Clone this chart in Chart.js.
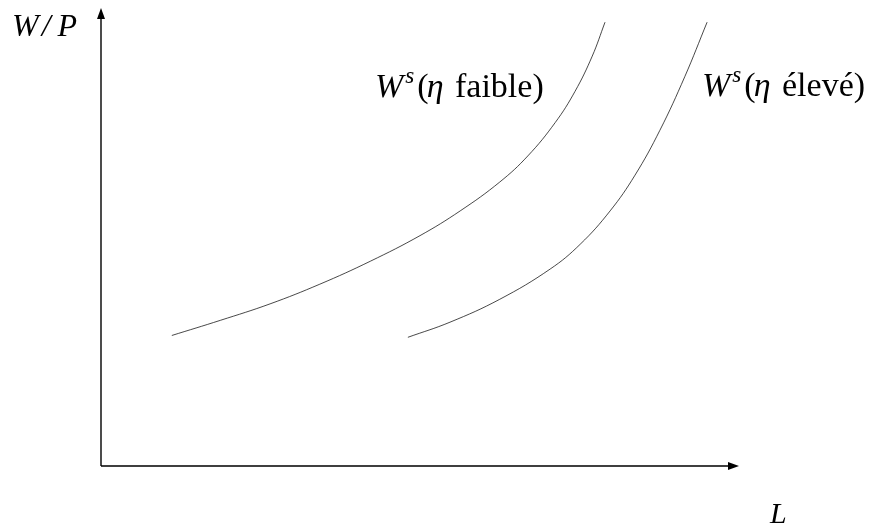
<!DOCTYPE html>
<html>
<head>
<meta charset="utf-8">
<script src="https://cdn.jsdelivr.net/npm/chart.js@4/dist/chart.umd.min.js"></script>
<style>
    html, body { margin: 0; padding: 0; background: #fff; }
    #wrap { width: 871px; height: 532px; position: relative; }
</style>
</head>
<body>
<div id="wrap"><canvas id="supply-chart"></canvas></div>
<script>
// Labour supply curves, L on the horizontal axis, W/P on the vertical (0..100 units)
const lowEtaL  = [11.1, 18.7, 26.5, 34.3, 42.2, 50.0, 56.3, 62.5, 66.9, 71.2, 74.3, 77.0, 79.0];
const lowEtaW  = [28.5, 31.8, 35.4, 39.7, 44.7, 50.3, 55.7, 62.0, 67.7, 75.0, 81.8, 89.5, 96.9];

const highEtaL = [48.1, 54.7, 62.5, 70.4, 75.1, 79.8, 83.7, 87.6, 91.5, 95.0];
const highEtaW = [28.1, 31.4, 36.4, 43.0, 48.4, 55.7, 63.5, 73.3, 85.0, 96.9];

const axisMax = 100;

const toPoints = (xs, ys) => xs.map((x, i) => ({ x: x, y: ys[i] }));

const SERIF = '"Liberation Serif", "DejaVu Serif", serif';

// Writes a run of text pieces one after another; each piece may be italic or raised
function drawPieces(ctx, pieces, x, baseline, size) {
    let cx = x;
    pieces.forEach(p => {
        const s = p.sup ? size * 0.68 : size;
        ctx.font = `${p.italic ? 'italic ' : ''}${s}px ${SERIF}`;
        const y = p.sup ? baseline - size * 0.42 : baseline;
        ctx.fillText(p.text, cx, y);
        cx += ctx.measureText(p.text).width + (p.gap || 0);
    });
}

function arrowHead(ctx, tipX, tipY, dx, dy) {
    const len = 11, half = 4;
    const bx = tipX - dx * len, by = tipY - dy * len;
    ctx.beginPath();
    ctx.moveTo(tipX, tipY);
    ctx.lineTo(bx - dy * half, by + dx * half);
    ctx.lineTo(bx + dy * half, by - dx * half);
    ctx.closePath();
    ctx.fill();
}

function supplyLabel(etaText) {
    return [
        { text: 'W', italic: true, gap: 2 },
        { text: 's', italic: true, sup: true, gap: 3 },
        { text: '(', gap: -2 },
        { text: 'η', italic: true, gap: 3 },
        { text: ' ' + etaText + ')' }
    ];
}

const axesPlugin = {
    id: 'axesArrows',
    afterDraw(chart) {
        const ctx = chart.ctx;
        const xs = chart.scales.x, ys = chart.scales.y;
        const x0 = xs.getPixelForValue(0), x1 = xs.getPixelForValue(axisMax);
        const y0 = ys.getPixelForValue(0), y1 = ys.getPixelForValue(axisMax);

        ctx.save();
        ctx.strokeStyle = '#000';
        ctx.fillStyle = '#000';
        ctx.lineWidth = 1.4;
        ctx.beginPath();
        ctx.moveTo(x0, y0);
        ctx.lineTo(x1 - 6, y0);
        ctx.moveTo(x0, y0);
        ctx.lineTo(x0, y1 + 6);
        ctx.stroke();
        arrowHead(ctx, x1, y0, 1, 0);
        arrowHead(ctx, x0, y1, 0, -1);

        // axis titles and curve labels
        ctx.textBaseline = 'alphabetic';
        drawPieces(ctx, [
            { text: 'W', italic: true, gap: 3 },
            { text: '/', italic: true, gap: 7 },
            { text: 'P', italic: true }
        ], x0 - 89, y1 + 28, 32);
        drawPieces(ctx, [{ text: 'L', italic: true }], x1 + 31, y0 + 57, 30);
        drawPieces(ctx, supplyLabel('faible'), 375, 97, 34);
        drawPieces(ctx, supplyLabel('élevé'), 702, 96, 34);
        ctx.restore();
    }
};

function curveDataset(xs, ys) {
    return {
        data: toPoints(xs, ys),
        showLine: true,
        borderColor: 'rgba(0, 0, 0, 0.8)',
        borderWidth: 0.9,
        pointRadius: 0,
        tension: 0.4,
        clip: false
    };
}

function renderSupplyChart() {
    const ctx = document.getElementById('supply-chart');
    new Chart(ctx, {
        type: 'scatter',
        data: {
            datasets: [curveDataset(lowEtaL, lowEtaW), curveDataset(highEtaL, highEtaW)]
        },
        options: {
            responsive: true,
            maintainAspectRatio: false,
            animation: false,
            layout: { padding: { left: 101, right: 132, top: 8, bottom: 66 } },
            plugins: { legend: { display: false }, tooltip: { enabled: false } },
            scales: {
                x: { type: 'linear', min: 0, max: axisMax, display: false },
                y: { type: 'linear', min: 0, max: axisMax, display: false }
            }
        },
        plugins: [axesPlugin]
    });
}

renderSupplyChart();
</script>
</body>
</html>
